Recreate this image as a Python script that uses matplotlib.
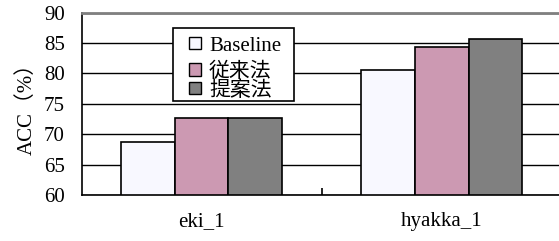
import numpy as np
import matplotlib.pyplot as plt
from matplotlib.patches import Rectangle

# データ
categories = ['eki_1', 'hyakka_1']
series = ['Baseline', '従来法', '提案法']
baseline = [68.7, 80.5]
conventional = [72.6, 84.4]
proposed = [72.6, 85.7]
colors = ['#f8f8ff', '#cc99b2', '#808080']

fonts = ['Liberation Serif', 'Noto Sans CJK JP']
plt.rcParams['font.family'] = fonts
W, H = 559, 241

fig = plt.figure(figsize=(W / 100, H / 100), dpi=100)
ax = fig.add_axes([81.5 / W, 1 - 195 / H, 1 - 81.5 / W + 0.005, (195 - 12.5) / H])

x = np.arange(len(categories))
w = 0.224
for i, (vals, c) in enumerate(zip([baseline, conventional, proposed], colors)):
    ax.bar(x + (i - 1) * w, np.array(vals) - 60, bottom=60, width=w,
           color=c, edgecolor='black', linewidth=1.2, zorder=3)

ax.set_ylim(60, 90)
ax.set_xlim(-0.5, 1.5)
ax.set_yticks(range(60, 91, 5))
ax.grid(axis='y', color='black', linewidth=1.0, zorder=0)
ax.set_axisbelow(True)

ax.spines['right'].set_visible(False)
ax.spines['top'].set_color('#808080')
ax.spines['top'].set_linewidth(2.0)
ax.spines['left'].set_linewidth(1.2)
ax.spines['bottom'].set_linewidth(1.2)

ax.set_xticks([0.5])
ax.set_xticklabels([''])
ax.tick_params(axis='x', which='major', direction='in', length=5, width=1.2)
ax.set_xticks(x, minor=True)
ax.set_xticklabels(categories, minor=True, fontsize=15)
ax.tick_params(axis='x', which='minor', length=0, pad=12)
ax.tick_params(axis='y', length=0, pad=12, labelsize=15)

ax.set_ylabel('ACC（%）', fontsize=15, labelpad=5)

# 凡例（手描き）
def fx(px):
    return px / W

def fy(py):
    return 1 - py / H

fig.patches.append(Rectangle((fx(173), fy(101)), fx(294) - fx(173), fy(28) - fy(101),
                             transform=fig.transFigure, facecolor='white',
                             edgecolor='black', linewidth=1.2, zorder=5))
rows = [43.5, 69.5, 88.5]
baselines = [51, 77, 96]
for name, c, yc, yb in zip(series, colors, rows, baselines):
    fig.patches.append(Rectangle((fx(188.5), fy(yc + 6)), 12 / W, 12 / H,
                                 transform=fig.transFigure, facecolor=c,
                                 edgecolor='black', linewidth=1.0, zorder=6))
    fig.text(fx(209), fy(yb), name, fontsize=15,
             ha='left', va='baseline', zorder=7)

fig.savefig('out.png', dpi=100)
